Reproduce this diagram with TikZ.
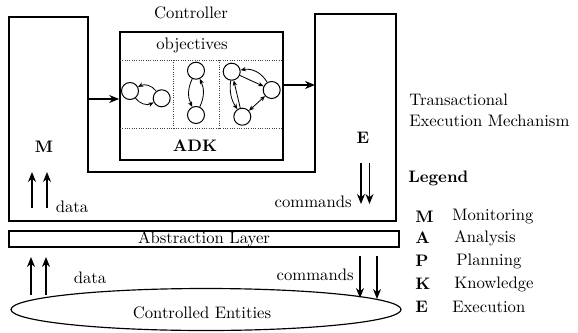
\documentclass[tikz,border=0pt]{standalone}
\usetikzlibrary{arrows.meta,shapes.geometric}
\begin{document}
\begin{tikzpicture}[x=0.6pt,y=-0.6pt,
  outline/.style={line width=0.9pt},
  bigarrow/.style={line width=0.9pt,-{Stealth[length=6pt,width=4.8pt]}},
  sep/.style={densely dotted,line width=0.4pt,draw=black!75},
  st/.style={circle,draw,line width=0.6pt,minimum size=10.2pt,inner sep=0pt},
  ga/.style={line width=0.5pt,-{Stealth[length=3.2pt,width=2.6pt]}},
  gaa/.style={line width=0.5pt,{Stealth[length=3.2pt,width=2.6pt]}-{Stealth[length=3.2pt,width=2.6pt]}},
  lbl/.style={inner sep=0pt,font=\normalsize}
]
\useasboundingbox (0,0) rectangle (578,332);

% U-shaped transactional execution mechanism
\draw[outline] (9,17) -- (88,17) -- (88,172) -- (315,172) -- (315,14) -- (396,14) -- (396,221) -- (9,221) -- cycle;

% Controller box
\node[draw,line width=1pt,minimum width=97.8pt,minimum height=76.8pt,inner sep=0pt] (ctrl) at (201.5,96) {};
\node[lbl] (ctrltitle) at (191,13) {Controller};
\node[lbl] (obj) at (192,45) {objectives};
\node[lbl,font=\bfseries] (adk) at (195,146) {ADK};
\draw[sep] (120,60) -- (283,60);
\draw[sep] (120,128) -- (283,128);
\draw[sep] (173.3,60) -- (173.3,128);
\draw[sep] (219.3,60) -- (219.3,128);

% graph 1
\node[st] (g1a) at (130,91) {};
\node[st] (g1b) at (161.7,98.3) {};
\draw[ga] (g1b) to[bend right=40] (g1a);
\draw[ga] (g1a) to[bend right=40] (g1b);
% graph 2
\node[st] (g2a) at (196,70.7) {};
\node[st] (g2b) at (196,115) {};
\draw[ga] (g2a) to[bend right=25] (g2b);
\draw[ga] (g2b) to[bend right=25] (g2a);
% graph 3
\node[st] (g3a) at (231.7,71.7) {};
\node[st] (g3b) at (271.7,90) {};
\node[st] (g3c) at (242.3,116.7) {};
\draw[ga] (g3a) -- (g3b);
\draw[ga] (g3b) to[bend right=35] (g3a);
\draw[ga] (g3a) to[bend right=20] (g3c);
\draw[ga] (g3c) -- (g3a);
\draw[gaa] (g3b) -- (g3c);

% arrows into and out of the controller
\coordinate (mout) at (88,99);
\coordinate (ein) at (315,85);
\draw[bigarrow] (mout) -- (mout -| ctrl.west);
\draw[bigarrow] (ctrl.east |- ein) -- (ein);

\node[lbl,font=\bfseries] (mlab) at (44,147) {M};
\node[lbl,font=\bfseries] (elab) at (363,138) {E};

\node[lbl,anchor=west] (tem1) at (409,100) {Transactional};
\node[lbl,anchor=west] (tem2) at (409,121) {Execution Mechanism};

% abstraction layer and controlled entities
\node[draw,line width=0.9pt,minimum width=234pt,minimum height=9.6pt,inner sep=0pt] (abs) at (204,239) {Abstraction Layer};
\node[ellipse,draw,line width=0.7pt,minimum width=234pt,minimum height=25.2pt,inner sep=0pt] (ent) at (206,309.5) {};
\node[lbl] (entlab) at (202,313) {Controlled Entities};

% data arrows
\coordinate (d1s) at (32,208);  \coordinate (d1e) at (32,172);
\coordinate (d2s) at (47,208);  \coordinate (d2e) at (47,172);
\draw[bigarrow] (d1s) -- (d1e);
\draw[bigarrow] (d2s) -- (d2e);
\node[lbl] (data1) at (72,207) {data};

\coordinate (d3s) at (31,295);  \coordinate (d3e) at (31,257);
\coordinate (d4s) at (46,295);  \coordinate (d4e) at (46,257);
\draw[bigarrow] (d3s) -- (d3e);
\draw[bigarrow] (d4s) -- (d4e);
\node[lbl] (data2) at (90,278) {data};

% command arrows
\coordinate (c1s) at (361,163); \coordinate (c1e) at (361,204);
\coordinate (c2s) at (369.5,163); \coordinate (c2e) at (369.5,204);
\draw[bigarrow] (c1s) -- (c1e);
\draw[bigarrow] (c2s) -- (c2e);
\node[lbl,anchor=east] (cmd1) at (352,202) {commands};

\coordinate (c3s) at (360,256); \coordinate (c3e) at (360,298);
\coordinate (c4s) at (377,256); \coordinate (c4e) at (377,299);
\draw[bigarrow] (c3s) -- (c3e);
\draw[bigarrow] (c4s) -- (c4e);
\node[lbl,anchor=east] (cmd2) at (354,275) {commands};

% legend
\node[lbl,anchor=west,font=\bfseries] (leg) at (408,178) {Legend};
\node[lbl,anchor=west,font=\bfseries] (lm) at (415,217) {M};
\node[lbl,anchor=west] (lmt) at (452,217) {Monitoring};
\node[lbl,anchor=west,font=\bfseries] (la) at (415,238) {A};
\node[lbl,anchor=west] (lat) at (454,238) {Analysis};
\node[lbl,anchor=west,font=\bfseries] (lp) at (415,261) {P};
\node[lbl,anchor=west] (lpt) at (456,261) {Planning};
\node[lbl,anchor=west,font=\bfseries] (lk) at (415,284) {K};
\node[lbl,anchor=west] (lkt) at (454,284) {Knowledge};
\node[lbl,anchor=west,font=\bfseries] (le) at (415,307) {E};
\node[lbl,anchor=west] (let) at (452,307) {Execution};
\end{tikzpicture}
\end{document}
